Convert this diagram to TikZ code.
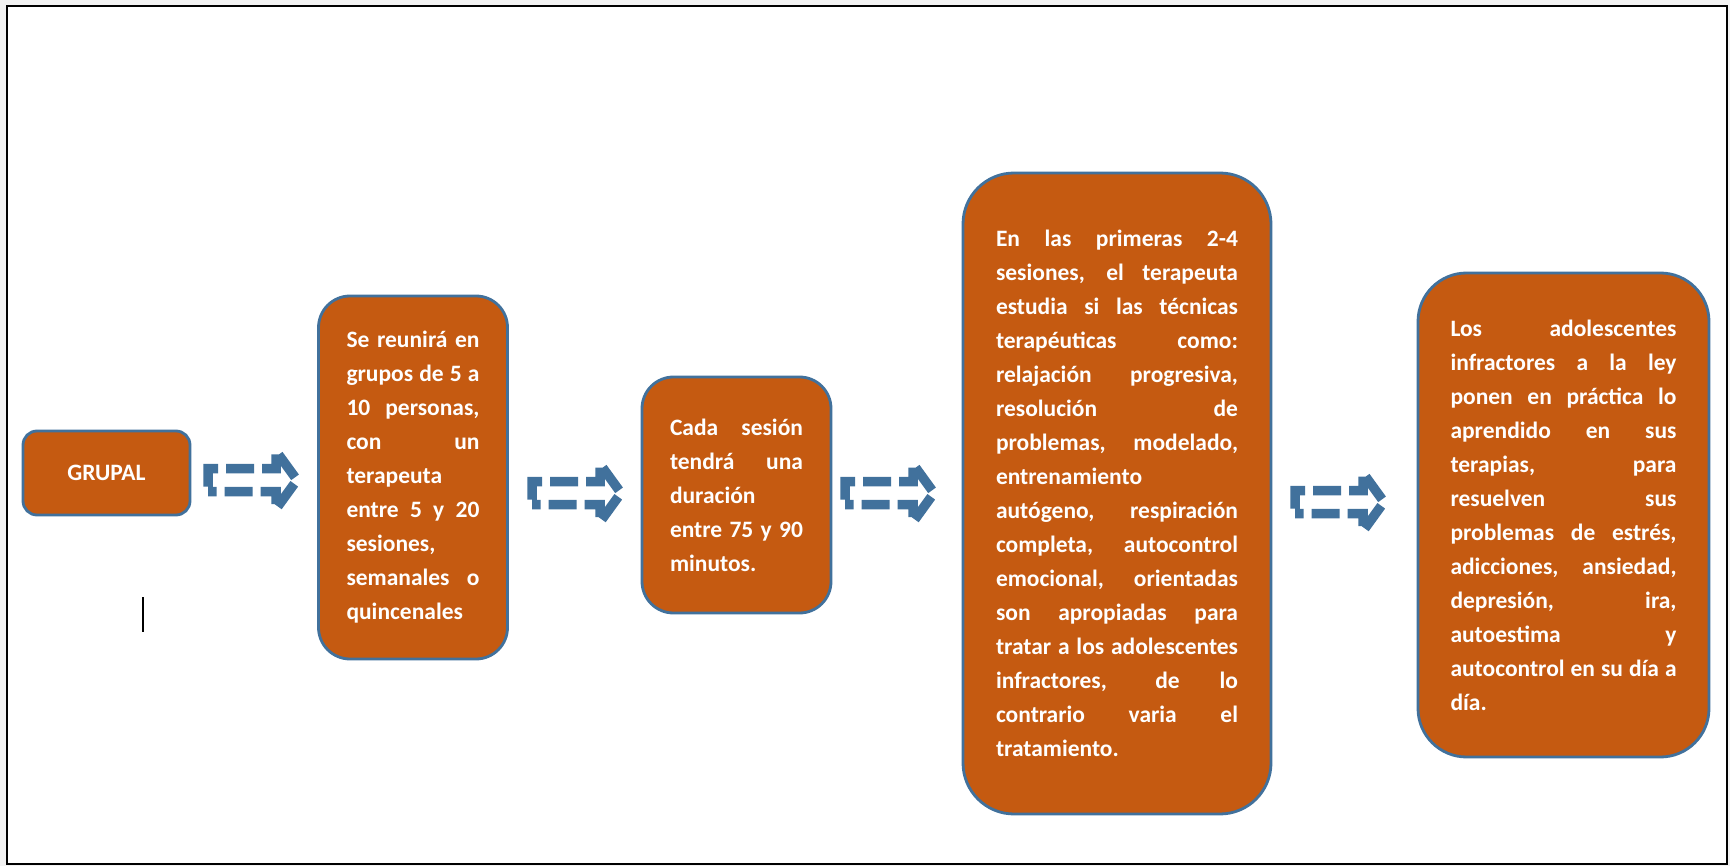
\documentclass[tikz,border=0pt]{standalone}
\usepackage{fontspec}
\setmainfont{Carlito}
\definecolor{boxfill}{RGB}{197,90,17}
\definecolor{boxline}{RGB}{65,113,156}
\definecolor{pagegray}{RGB}{242,242,242}
\newcommand\jl[2]{\makebox[#1pt][s]{#2}}
\tikzset{
  box/.style={draw=boxline, line width=2.8pt, fill=boxfill, text=white,
    font=\fontsize{23.5}{34}\selectfont\bfseries, align=left, inner sep=0pt},
  arrowline/.style={draw=boxline, line width=9.5pt, dash pattern=on 28pt off 8pt, dash phase=31pt, line join=miter, miter limit=2},
  darrow/.pic={
    \draw[arrowline] (-95,11.5) -- (-95,-11.5) -- (-27,-11.5) -- (-27,-29)
      -- (-6,0) -- (-27,29) -- (-27,11.5) -- cycle;
  }
}
\begin{document}
\begin{tikzpicture}[x=1pt,y=-1pt]
\useasboundingbox (0,0) rectangle (1730,866);
\fill[pagegray] (0,0) rectangle (1730,866);
\draw[black, line width=2.5pt, fill=white] (7,6) rectangle (1727,864);

\node[box, minimum width=167pt, minimum height=84pt, rounded corners=14pt] (grupal) at (106.5,473) {GRUPAL};

\node[box, minimum width=189pt, minimum height=363pt, rounded corners=31.5pt] (b2) at (413,477.5) {%
\jl{133}{Se reunirá en}\\
\jl{133}{grupos de 5 a}\\
\jl{133}{10 personas,}\\
\jl{133}{con un}\\
terapeuta\\
\jl{133}{entre 5 y 20}\\
sesiones,\\
\jl{133}{semanales o}\\
quincenales};

\node[box, minimum width=189pt, minimum height=236pt, rounded corners=31.5pt] (b3) at (736.5,495) {%
\jl{133}{Cada sesión}\\
\jl{133}{tendrá una}\\
duración\\
\jl{133}{entre 75 y 90}\\
minutos.};

\node[box, minimum width=308pt, minimum height=641pt, rounded corners=51pt] (b4) at (1117,493.5) {%
\jl{242}{En las primeras 2-4}\\
\jl{242}{sesiones, el terapeuta}\\
\jl{242}{estudia si las técnicas}\\
\jl{242}{terapéuticas como:}\\
\jl{242}{relajación progresiva,}\\
\jl{242}{resolución de}\\
\jl{242}{problemas, modelado,}\\
entrenamiento\\
\jl{242}{autógeno, respiración}\\
\jl{242}{completa, autocontrol}\\
\jl{242}{emocional, orientadas}\\
\jl{242}{son apropiadas para}\\
\jl{242}{tratar a los adolescentes}\\
\jl{242}{infractores, de lo}\\
\jl{242}{contrario varia el}\\
tratamiento.};

\node[box, minimum width=291pt, minimum height=484pt, rounded corners=48.5pt] (b5) at (1563.5,515) {%
\jl{226}{Los adolescentes}\\
\jl{226}{infractores a la ley}\\
\jl{226}{ponen en práctica lo}\\
\jl{226}{aprendido en sus}\\
\jl{226}{terapias, para}\\
\jl{226}{resuelven sus}\\
\jl{226}{problemas de estrés,}\\
\jl{226}{adicciones, ansiedad,}\\
\jl{226}{depresión, ira,}\\
\jl{226}{autoestima y}\\
\jl{226}{autocontrol en su día a}\\
día.};

\pic (a1) at (303,480) {darrow};
\pic (a2) at (627,493) {darrow};
\pic (a3) at (940,493) {darrow};
\pic (a4) at (1390,502) {darrow};

\coordinate (cur1) at (143,597);
\coordinate (cur2) at (143,632);
\draw[black, line width=1.3pt] (cur1) -- (cur2);
\end{tikzpicture}
\end{document}
